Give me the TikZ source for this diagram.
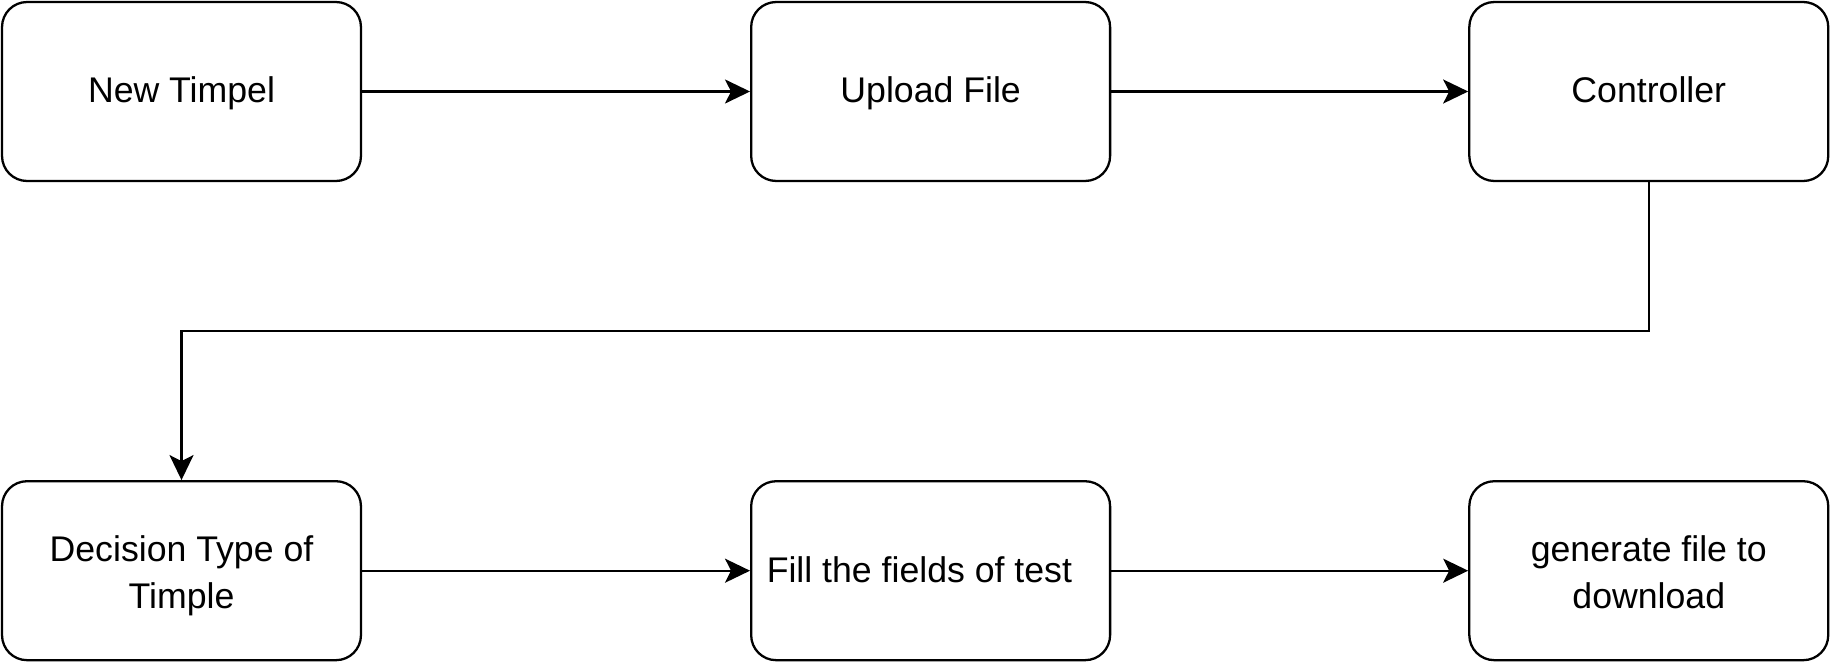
\documentclass[tikz,border=0pt]{standalone}
\usepackage{fontspec}
\setmainfont{Liberation Sans}
\usetikzlibrary{arrows.meta, positioning}
\newcommand{\topstrut}[1]{\rule{0pt}{#1}}
\newcommand{\botstrut}{\rule[-6.5pt]{0pt}{6.5pt}}

\begin{document}
\begin{tikzpicture}[x=0.02cm, y=-0.02cm, node distance=5.96cm and 7.76cm,
stepbox/.style={rectangle, rounded corners=0.5cm, draw=black, line width=1.3pt,
minimum width=7.18cm, minimum height=3.58cm, text width=6.8cm, align=flush center,
font=\fontsize{20.3}{26.5}\selectfont,
execute at begin node=\topstrut{19.5pt}, execute at end node=\botstrut},
twoline/.style={execute at begin node=\topstrut{23pt}},
arrow/.style={-{Stealth[length=0.5cm, width=0.48cm, inset=0.12cm]}, line width=1.3pt}]

\useasboundingbox (0,0) rectangle (1833,663);

\node[stepbox] (newt) at (181.5,91.5) {New Timpel};
\node[stepbox, right=of newt] (upload) {Upload File};
\node[stepbox, right=7.14cm of upload] (ctrl) {Controller};
\node[stepbox, twoline, below=of newt] (decide) {Decision Type of\\Timple};
\node[stepbox, right=of decide] (fill) {\hspace*{-0.45cm}Fill the fields of test};
\node[stepbox, twoline, right=7.14cm of fill] (gen) {generate file to\\download};

\draw[arrow] (newt)   -- (upload);
\draw[arrow] (upload) -- (ctrl);
\draw[arrow] (ctrl.south) |- (181.5,331) -- (decide.north);
\draw[arrow] (decide) -- (fill);
\draw[arrow] (fill)   -- (gen);
\end{tikzpicture}
\end{document}
